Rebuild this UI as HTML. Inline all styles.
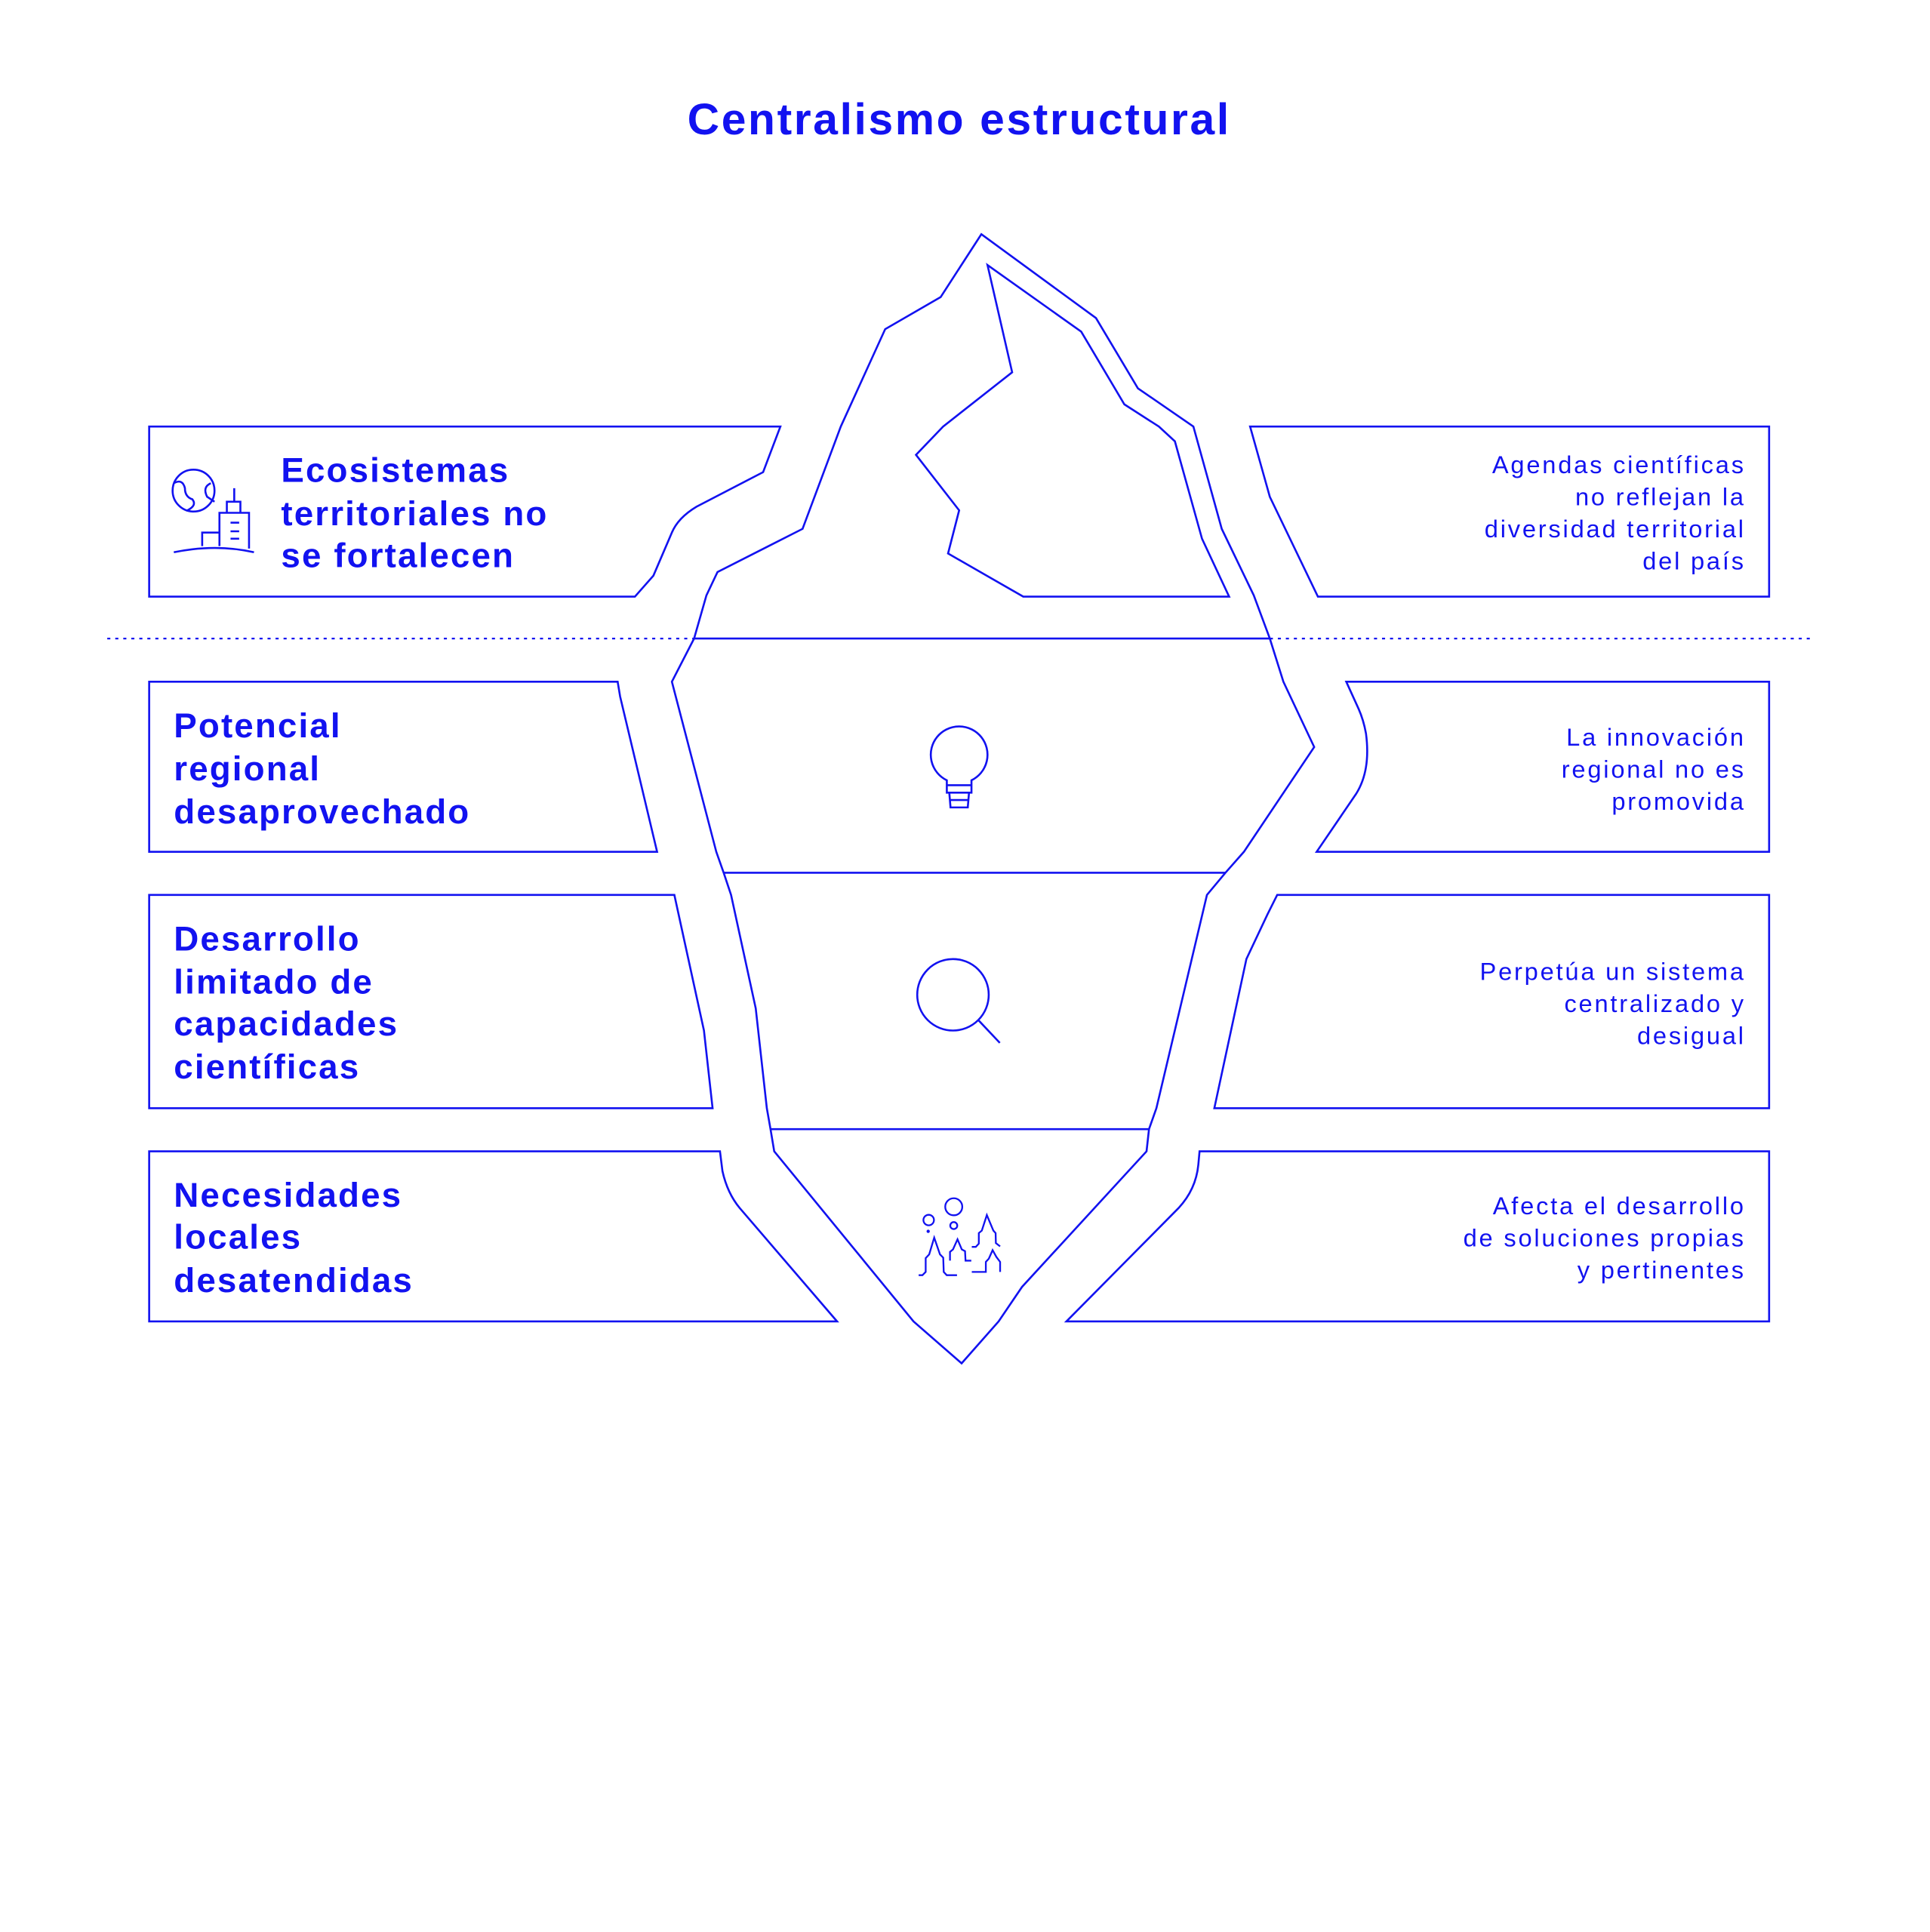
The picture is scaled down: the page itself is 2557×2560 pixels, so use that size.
<!DOCTYPE html>
<html><head><meta charset="utf-8"><style>
html,body{margin:0;padding:0;background:#fff;}
svg{display:block;}
text{font-family:"Liberation Sans",sans-serif;fill:#1212f0;}
.b{font-weight:bold;font-size:28px;letter-spacing:1.3px;}
.r{font-size:20px;text-anchor:end;letter-spacing:1.7px;}
</style></head><body>
<svg width="2557" height="2560" viewBox="0 0 1565.5 1567.3" xmlns="http://www.w3.org/2000/svg">
<g fill="none" stroke="#1212f0" stroke-width="1.6" stroke-linejoin="miter">
<path d="M121,346 L633,346 L619,383 L565,411 Q550,420 545,432 L530,467 L515,484 L121,484 Z"/>
<path d="M121,553 L501,553 L503,565 L533,691 L121,691 Z"/>
<path d="M121,726 L547,726 L571,836 L578,899 L121,899 Z"/>
<path d="M121,934 L584,934 L586,950 Q590,968 600,980 L679,1072 L121,1072 Z"/>
<path d="M1014,346 L1435,346 L1435,484 L1069,484 L1030,403 Z"/>
<path d="M1092,553 L1435,553 L1435,691 L1068,691 L1100,644 Q1112,625 1108,595 Q1106,584 1102,575 Z"/>
<path d="M1036,726 L1435,726 L1435,899 L985,899 L1011,778 L1028,742 Z"/>
<path d="M973,934 L1435,934 L1435,1072 L865,1072 L956,980 Q970,965 972,945 Z"/>
<path d="M796,190 L889,258 L923,315 L968,346 L991,429 L1017,483 L1030,518 L1041,553 L1066,606 L1009,691 L994,708 L979,726 L938,899 L932,916 L930,934 L829,1044 L810,1072 L780,1106 L741,1072 L628,934 L625,916 L622,899 L613,818 L593,726 L587,708 L581,691 L545,553 L563,518 L573,483 L582,464 L651,429 L682,346 L718,267 L763,241 Z"/>
<path d="M801,215 L877,269 L912,328 L940,346 L953,358 L975,437 L997,484 L830,484 L769,449 L778,414 L743,369 L765,346 L821,302 Z"/>
<line x1="563" y1="518" x2="1030" y2="518"/>
<line x1="587" y1="708" x2="994" y2="708"/>
<line x1="625" y1="916" x2="932" y2="916"/>
<line x1="87" y1="518" x2="563" y2="518" stroke-dasharray="2.5,4" stroke-width="1.4"/>
<line x1="1030" y1="518" x2="1470" y2="518" stroke-dasharray="2.5,4" stroke-width="1.4"/>
<path d="M768,633 A23,23 0 1 1 788,633 L788,643 L768,643 Z"/>
<line x1="768" y1="637" x2="788" y2="637"/>
<path d="M770,643 L771,655 L785,655 L786,643"/>
<line x1="771" y1="649" x2="785" y2="649"/>
<circle cx="773" cy="807" r="29"/>
<line x1="794" y1="828" x2="811" y2="846"/>
<circle cx="157" cy="398" r="17"/>
<path d="M141,392 Q148,388 150,396 Q150,403 156,405 Q160,410 152,414"/>
<path d="M171,392 Q164,395 168,403 L174,407"/>
<path d="M141,448 Q175,441 206,448"/>
<path d="M164,443 L164,432 L178,432 L178,443 M178,443 L178,416 L202,416 L202,445 M184,416 L184,407 L195,407 L195,416 M190,407 L190,396 M187,424 L194,424 M187,431 L194,431 M187,437 L194,437"/>
<g transform="translate(735,949.5) scale(0.2033)" stroke-width="7">
<circle cx="190" cy="145" r="34"/>
<circle cx="190" cy="220" r="14"/>
<circle cx="90" cy="198" r="21"/>
<circle cx="88" cy="243" r="3" fill="#1212f0"/>
<path d="M50,418 L65,418 L78,405 L78,350 L92,335 L112,268 L135,335 L148,348 L150,405 L162,418 L203,418"/>
<path d="M175,360 L175,325 L187,315 L205,275 L222,315 L235,322 L237,360 L260,360"/>
<path d="M262,305 L278,305 L290,292 L290,250 L302,240 L322,178 L348,240 L357,250 L358,290 L375,303"/>
<path d="M262,405 L318,405 L318,365 L330,352 L345,318 L360,345 L375,365 L375,405"/>
</g>
</g>
<text x="778" y="109" text-anchor="middle" style="font-weight:bold;font-size:36px;letter-spacing:1.6px">Centralismo estructural</text>
<text class="b"><tspan x="228" y="391">Ecosistemas</tspan><tspan x="228" y="426">territoriales no</tspan><tspan x="228" y="460">se fortalecen</tspan></text>
<text class="b"><tspan x="141" y="598">Potencial</tspan><tspan x="141" y="633">regional</tspan><tspan x="141" y="668">desaprovechado</tspan></text>
<text class="b"><tspan x="141" y="771">Desarrollo</tspan><tspan x="141" y="806">limitado de</tspan><tspan x="141" y="840">capacidades</tspan><tspan x="141" y="875">científicas</tspan></text>
<text class="b"><tspan x="141" y="979">Necesidades</tspan><tspan x="141" y="1013">locales</tspan><tspan x="141" y="1048">desatendidas</tspan></text>
<text class="r"><tspan x="1416" y="384">Agendas científicas</tspan><tspan x="1416" y="410">no reflejan la</tspan><tspan x="1416" y="436">diversidad territorial</tspan><tspan x="1416" y="462">del país</tspan></text>
<text class="r"><tspan x="1416" y="605">La innovación</tspan><tspan x="1416" y="631">regional no es</tspan><tspan x="1416" y="657">promovida</tspan></text>
<text class="r"><tspan x="1416" y="795">Perpetúa un sistema</tspan><tspan x="1416" y="821">centralizado y</tspan><tspan x="1416" y="847">desigual</tspan></text>
<text class="r"><tspan x="1416" y="985">Afecta el desarrollo</tspan><tspan x="1416" y="1011">de soluciones propias</tspan><tspan x="1416" y="1037">y pertinentes</tspan></text>
</svg>
</body></html>
